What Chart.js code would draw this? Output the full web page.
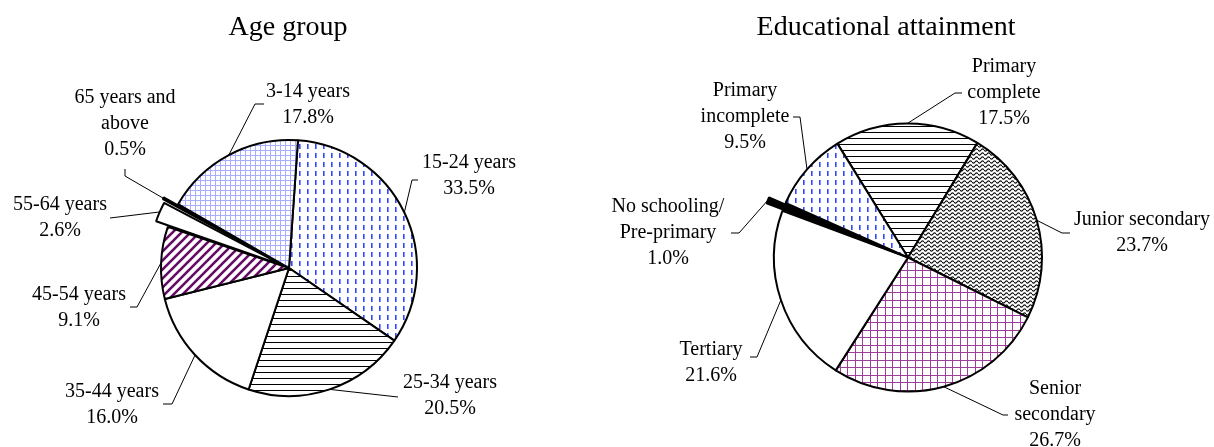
<!DOCTYPE html>
<html><head><meta charset="utf-8">
<script src="https://cdn.jsdelivr.net/npm/chart.js@4/dist/chart.umd.min.js"></script>
<style>
html,body{margin:0;padding:0;background:#fff;}
#wrap{position:relative;width:1214px;height:447px;overflow:hidden;}
canvas{position:absolute;left:0;top:0;}
</style></head><body>
<div id="wrap"><canvas id="c1" width="1214" height="447"></canvas><canvas id="c2" width="1214" height="447"></canvas></div>
<script>
// ---- data ----
const ageTitle = 'Age group';
const ageCategories = [['15-24 years'], ['25-34 years'], ['35-44 years'], ['45-54 years'], ['55-64 years'], ['65 years and', 'above'], ['3-14 years']];
const ageValues = [33.5, 20.5, 16.0, 9.1, 2.6, 0.5, 17.8];

const eduTitle = 'Educational attainment';
const eduCategories = [['Primary', 'complete'], ['Junior secondary'], ['Senior', 'secondary'], ['Tertiary'], ['No schooling/', 'Pre-primary'], ['Primary', 'incomplete']];
const eduValues = [17.5, 23.7, 26.7, 21.6, 1.0, 9.5];

// ---- patterns ----
function mk(w, h, draw) {
  const c = document.createElement('canvas'); c.width = w; c.height = h;
  const x = c.getContext('2d'); x.fillStyle = '#fff'; x.fillRect(0, 0, w, h); draw(x);
  return x.createPattern(c, 'repeat');
}
const pGridBlue = mk(5, 5, x => { x.fillStyle = '#a9adff'; x.fillRect(0, 0, 5, 1); x.fillRect(0, 0, 1, 5); });
const pDash = mk(8, 9, x => { x.fillStyle = '#3046ff'; x.fillRect(3, 0, 1.6, 5); });
const pHoriz = mk(6, 6, x => { x.fillStyle = '#000'; x.fillRect(0, 0, 6, 1); });
const pDiag = mk(9, 9, x => {
  x.strokeStyle = '#660a66'; x.lineWidth = 2.6; x.beginPath();
  x.moveTo(-2, 11); x.lineTo(11, -2); x.moveTo(-2, 2); x.lineTo(2, -2); x.moveTo(7, 11); x.lineTo(11, 7); x.stroke();
});
const pWave = mk(6, 4, x => {
  x.strokeStyle = '#111'; x.lineWidth = 1.1; x.beginPath();
  for (let i = 0; i <= 12; i++) { const xx = i / 2; const yy = 2 + Math.sin(xx / 6 * Math.PI * 2) * 1.1; i ? x.lineTo(xx, yy) : x.moveTo(xx, yy); }
  x.stroke();
});
const pGridPurple = mk(15, 15, x => { x.fillStyle = '#9b3f9b'; x.fillRect(0, 0, 15, 1); x.fillRect(0, 7, 15, 1); x.fillRect(0, 0, 1, 15); x.fillRect(7, 0, 1, 15); });

const ageFills = [pDash, pHoriz, '#ffffff', pDiag, '#ffffff', '#1f62b0', pGridBlue];
const eduFills = [pHoriz, pWave, pGridPurple, '#ffffff', '#000000', pDash];

// ---- layout (positions only) ----
const LINE_H = 26;
const ageLayout = [
  {tx: 469, ty: 163, path: [[412, 180], [418, 180]]},
  {tx: 450, ty: 383, path: [[398, 397]]},
  {tx: 112, ty: 392, path: [[172, 404], [163, 404]]},
  {tx: 79, ty: 295, path: [[137, 307], [130, 307]]},
  {tx: 60, ty: 205, path: [[110, 218]]},
  {tx: 125, ty: 98, path: [[125, 176], [125, 169]]},
  {tx: 308, ty: 92, path: [[255, 104], [264, 104]]}
];
const eduLayout = [
  {tx: 1004, ty: 67, path: [[955, 93], [962, 93]]},
  {tx: 1142, ty: 220, path: [[1062, 233], [1070, 233]]},
  {tx: 1055, ty: 389, path: [[1003, 415], [1008, 415]]},
  {tx: 711, ty: 350, path: [[757, 357], [750, 357]]},
  {tx: 668, ty: 207, path: [[739, 233], [731, 233]]},
  {tx: 745, ty: 91, path: [[800, 117], [793, 117]]}
];

const labelPlugin = {
  id: 'pieLabels',
  afterDraw(chart, args, opts) {
    const ctx = chart.ctx;
    const meta = chart.getDatasetMeta(0);
    const ds = chart.data.datasets[0];
    ctx.save();
    ctx.fillStyle = '#000';
    ctx.textAlign = 'center';
    ctx.textBaseline = 'middle';
    ctx.font = '28px "Liberation Serif", "Times New Roman", serif';
    ctx.fillText(opts.title, opts.titleX, opts.titleY);
    ctx.font = '20px "Liberation Serif", "Times New Roman", serif';
    ctx.strokeStyle = '#000';
    ctx.lineWidth = 1;
    meta.data.forEach((el, i) => {
      const L = opts.layout[i];
      const lines = [].concat(chart.data.labels[i], ds.data[i].toFixed(1) + '%');
      lines.forEach((t, k) => ctx.fillText(t, L.tx, L.ty + k * LINE_H));
      const p = el.getProps(['x', 'y', 'startAngle', 'endAngle', 'outerRadius', 'circumference'], true);
      const mid = (p.startAngle + p.endAngle) / 2;
      const off = (el.options.offset || 0) / 4;
      const fix = 1 - Math.sin(Math.min(Math.PI, p.circumference || 0));
      const r = p.outerRadius + (off ? off + off * fix : 0);
      const ax = p.x + Math.cos(mid) * r, ay = p.y + Math.sin(mid) * r;
      ctx.beginPath();
      ctx.moveTo(ax, ay);
      L.path.forEach(q => ctx.lineTo(q[0], q[1]));
      ctx.stroke();
    });
    ctx.restore();
  }
};

function makePie(id, labels, values, fills, offsets, rotation, radius, padding, title, titleX, layout) {
  return new Chart(document.getElementById(id), {
    type: 'pie',
    data: {
      labels: labels,
      datasets: [{
        data: values,
        backgroundColor: fills,
        borderColor: '#000',
        borderWidth: 2,
        offset: offsets
      }]
    },
    options: {
      responsive: false,
      animation: false,
      events: [],
      rotation: rotation,
      radius: radius,
      layout: {padding: padding},
      plugins: {
        legend: {display: false},
        tooltip: {enabled: false},
        title: {display: false},
        pieLabels: {title: title, titleX: titleX, titleY: 28, layout: layout}
      }
    },
    plugins: [labelPlugin]
  });
}

makePie('c1', ageCategories, ageValues, ageFills, [0, 0, 0, 0, 28, 32, 0], 4, 128,
  {left: 0, right: 636, top: 89, bottom: 0}, ageTitle, 288, ageLayout);
makePie('c2', eduCategories, eduValues, eduFills, [0, 0, 0, 0, 36, 0], -31.8, 134,
  {left: 602, right: 0, top: 68, bottom: 0}, eduTitle, 886, eduLayout);
</script>
</body></html>
